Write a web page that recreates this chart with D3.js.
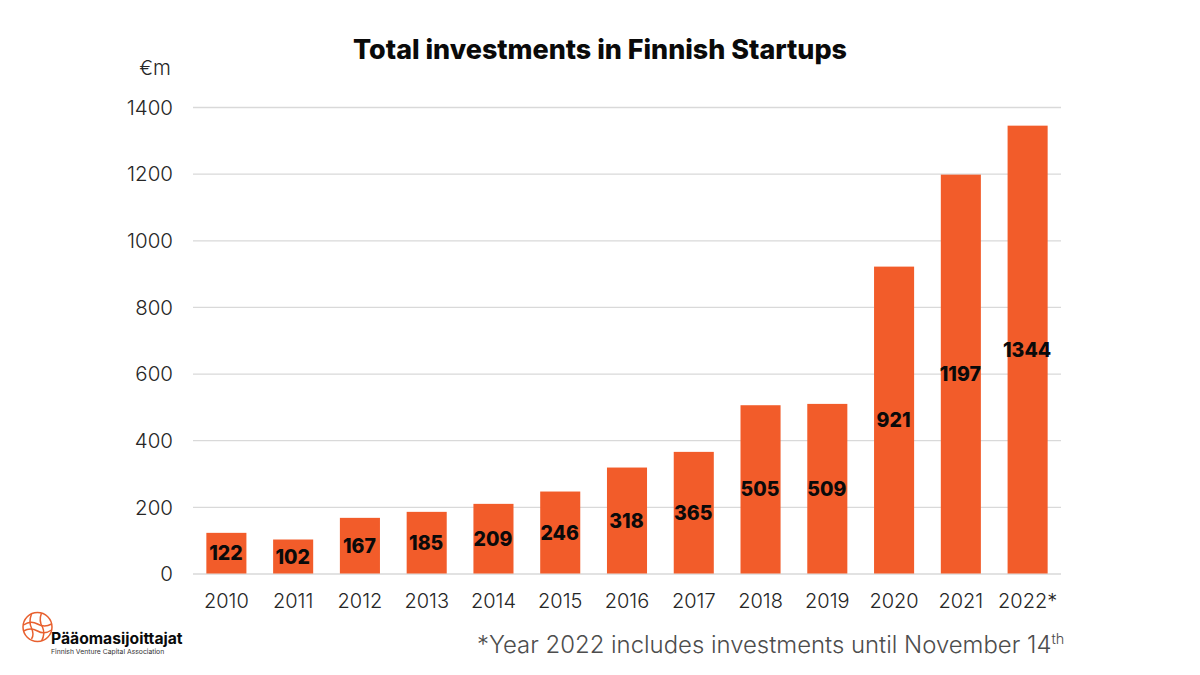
<!DOCTYPE html>
<html>
<head>
<meta charset="utf-8">
<script src="https://cdn.jsdelivr.net/npm/d3@7"></script>
<style>
  html, body { margin: 0; padding: 0; background: #fff; }
  text { font-family: "Inter", "Lato", sans-serif; }
</style>
</head>
<body>
<div id="chart"></div>
<script>
var years = ["2010","2011","2012","2013","2014","2015","2016","2017","2018","2019","2020","2021","2022*"];
var investments = [122,102,167,185,209,246,318,365,505,509,921,1197,1344];
var yTicks = [0,200,400,600,800,1000,1200,1400];

var width = 1200, height = 675;
var svg = d3.select("#chart").append("svg").attr("width", width).attr("height", height);

var x = d3.scaleBand().domain(years).range([193, 1061]).paddingInner(0.4).paddingOuter(0.2);
var y = d3.scaleLinear().domain([0, 1400]).range([573.5, 107]);

// gridlines + y labels
var yAxis = d3.axisLeft(y).tickValues(yTicks).tickSize(-868).tickFormat(d3.format("d"));
var yG = svg.append("g").attr("transform", "translate(193,0)").call(yAxis);
yG.select(".domain").remove();
yG.selectAll("line").attr("stroke", "#d9d9d9").attr("stroke-width", 1.3);
yG.selectAll("text").attr("x", -20).attr("dy", "0.35em")
  .attr("font-size", 20.5).attr("font-weight", 300).attr("fill", "#262626");

// bars
svg.selectAll("rect.bar").data(investments).enter().append("rect")
  .attr("class", "bar")
  .attr("x", function(d, i) { return x(years[i]); })
  .attr("y", function(d) { return y(d); })
  .attr("width", x.bandwidth())
  .attr("height", function(d) { return y(0) - y(d); })
  .attr("fill", "#f25c2a");

// value labels sit in the middle of each bar
svg.selectAll("text.val").data(investments).enter().append("text")
  .attr("class", "val")
  .attr("x", function(d, i) { return x(years[i]) + x.bandwidth() / 2 - 0.5; })
  .attr("y", function(d) { return (y(d) + y(0)) / 2 + 7; })
  .attr("text-anchor", "middle")
  .attr("font-size", 19.5).attr("font-weight", 800).attr("fill", "#0a0a0a")
  .text(function(d) { return d; });

// x labels
var xAxis = d3.axisBottom(x).tickSize(0);
var xG = svg.append("g").attr("transform", "translate(0,573.5)").call(xAxis);
xG.select(".domain").remove();
xG.selectAll("text").attr("y", 20).attr("dy", "0.71em")
  .attr("font-size", 20).attr("font-weight", 300).attr("fill", "#262626");

// title
svg.append("text").attr("x", 600).attr("y", 59).attr("text-anchor", "middle")
  .attr("font-size", 26.9).attr("font-weight", 800).attr("fill", "#0a0a0a")
  .text("Total investments in Finnish Startups");

svg.append("text").attr("x", 155).attr("y", 75).attr("text-anchor", "middle")
  .attr("font-size", 20.5).attr("font-weight", 300).attr("fill", "#262626").text("€m");

// footnote
var note = svg.append("text").attr("x", 477).attr("y", 653)
  .attr("font-size", 23.9).attr("font-weight", 300).attr("fill", "#4d4d4d");
note.append("tspan").text("*Year 2022 includes investments until November 14");
note.append("tspan").attr("dy", -9).attr("font-size", 14.5).text("th");

// logo
var logo = svg.append("g").attr("transform", "translate(37.5,627)")
  .attr("fill", "none").attr("stroke", "#e8602f").attr("stroke-width", 1.5);
logo.append("circle").attr("r", 14.5);
logo.append("path").attr("d", "M-14,-2 Q-7,-7 0,-3 Q7,1 14,-3 M-14,4 Q-7,0 0,4 Q7,8 14,3");
logo.append("path").attr("d", "M-6,-13 Q-9,-5 -6,1 Q-3,8 -6,12 M4,-14 Q1,-6 5,0 Q8,7 4,14");

svg.append("text").attr("x", 51).attr("y", 644)
  .attr("font-size", 15.7).attr("font-weight", 700).attr("fill", "#0a0a0a")
  .text("Pääomasijoittajat");
svg.append("text").attr("x", 51).attr("y", 653.5)
  .attr("font-size", 6.8).attr("fill", "#333").text("Finnish Venture Capital Association");
</script>
</body>
</html>
